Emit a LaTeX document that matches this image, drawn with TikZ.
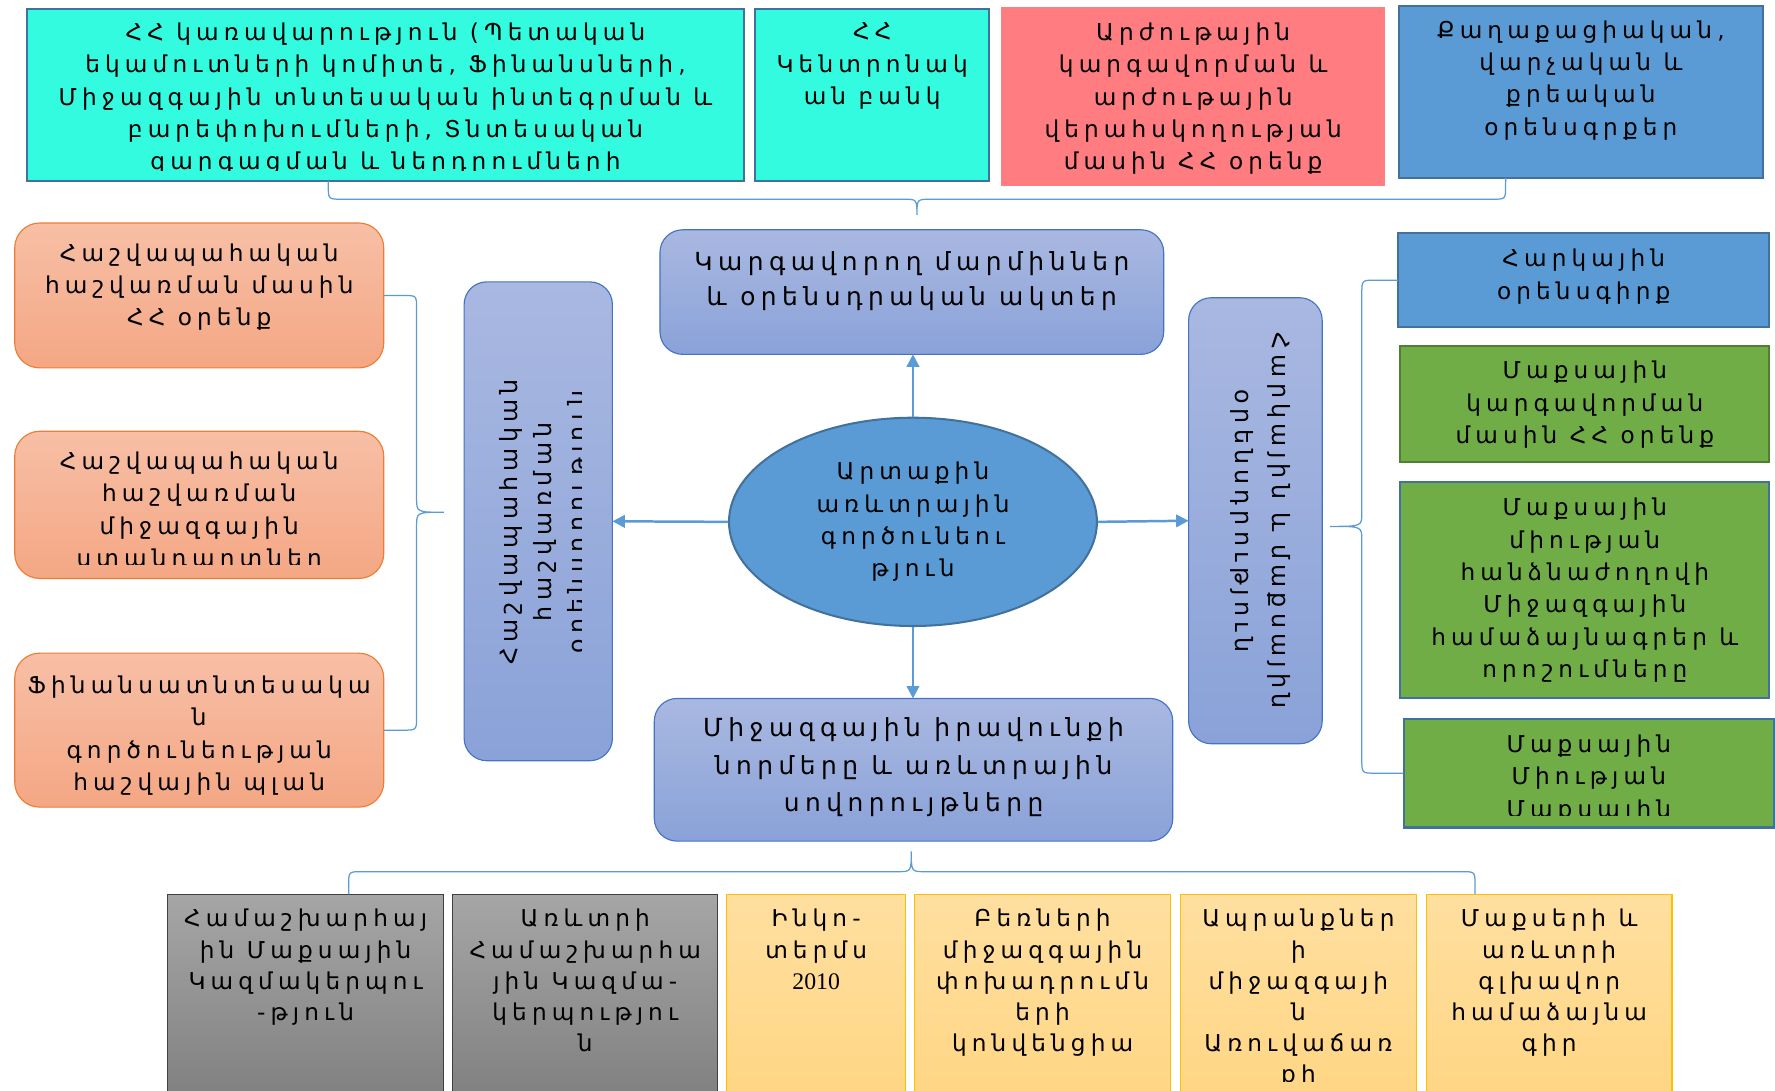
\documentclass[tikz,border=0pt]{standalone}
\usepackage{fontspec}
\setmainfont{DejaVu Sans}[LetterSpace=22]
\newfontfamily\numfont{Liberation Serif}
\usetikzlibrary{shapes.geometric,arrows.meta,calc}

\definecolor{aqua}{HTML}{33FBE0}
\definecolor{rose}{HTML}{FF7C80}
\definecolor{steel}{HTML}{5B9BD5}
\definecolor{steeledge}{HTML}{41719C}
\definecolor{leaf}{HTML}{70AD47}
\definecolor{leafedge}{HTML}{507E32}
\definecolor{peachtop}{HTML}{F7BFA6}
\definecolor{peachbot}{HTML}{F4A784}
\definecolor{peachedge}{HTML}{ED7D31}
\definecolor{lavtop}{HTML}{A9B8E1}
\definecolor{lavbot}{HTML}{8AA2D8}
\definecolor{lavedge}{HTML}{4472C4}
\definecolor{greytop}{HTML}{A6A6A6}
\definecolor{greybot}{HTML}{7A7A7A}
\definecolor{greyedge}{HTML}{404040}
\definecolor{sandtop}{HTML}{FFDFA0}
\definecolor{sandbot}{HTML}{FFD47F}
\definecolor{sandedge}{HTML}{FFC000}
\definecolor{linkblue}{HTML}{5B9BD5}

\begin{document}
\begin{tikzpicture}[x=1pt,y=-1pt,
  panel/.style={draw, inner sep=0pt, outer sep=0pt, line width=1.8pt},
  sqaqua/.style={panel, fill=aqua, draw=steeledge},
  sqrose/.style={panel, fill=rose, draw=rose},
  sqsteel/.style={panel, fill=steel, draw=steeledge},
  sqleaf/.style={panel, fill=leaf, draw=leafedge},
  sqleafb/.style={panel, fill=leaf, draw=steeledge},
  peach/.style={panel, rounded corners=22pt, top color=peachtop, bottom color=peachbot, draw=peachedge, line width=1pt},
  lav/.style={panel, rounded corners=20pt, top color=lavtop, bottom color=lavbot, draw=lavedge, line width=1pt},
  grey/.style={panel, top color=greytop, bottom color=greybot, draw=greyedge, line width=1pt},
  sand/.style={panel, top color=sandtop, bottom color=sandbot, draw=sandedge, line width=1pt},
  lbl/.style={align=center, inner sep=0pt, anchor=north, font=\fontsize{20.5}{28.5}\selectfont},
  lblbig/.style={lbl, font=\fontsize{22}{31}\selectfont},
  lblsm/.style={lbl, font=\fontsize{20.5}{27.5}\selectfont},
  link/.style={draw=linkblue, line width=2.2pt, -{Triangle[length=11pt,width=11pt]}},
  brace/.style={draw=linkblue, line width=1.1pt}
]
\useasboundingbox (0,0) rectangle (1568,963);
\clip (0,0) rectangle (1568,963);

% ---------- top row: governing bodies and codes ----------
\node[sqaqua, minimum width=633pt, minimum height=152pt] (t1) at (340.5,84) {};
\node[sqaqua, minimum width=207pt, minimum height=152pt] (t2) at (770.5,84) {};
\node[sqrose, minimum width=338pt, minimum height=156pt] (t3) at (1054,85) {};
\node[sqsteel, minimum width=321pt, minimum height=152pt] (t4) at (1396.5,81) {};

\begin{scope}
  \clip (24,8) rectangle (657,151);
  \node[lbl] (t1x) at ($(t1.north)+(0,12)$) {ՀՀ կառավարություն (Պետական\\եկամուտների կոմիտե, Ֆինանսների,\\Միջազգային տնտեսական ինտեգրման և\\բարեփոխումների, Տնտեսական\\զարգացման և ներդրումների};
\end{scope}
\node[lbl] (t2x) at ($(t2.north)+(0,12)$) {ՀՀ\\Կենտրոնակ\\ան բանկ};
\node[lbl] (t3x) at ($(t3.north)+(0,13)$) {Արժութային\\կարգավորման և\\արժութային\\վերահսկողության\\մասին ՀՀ օրենք};
\node[lbl] (t4x) at ($(t4.north)+(0,13)$) {Քաղաքացիական,\\վարչական և\\քրեական\\օրենսգրքեր};

% ---------- centre ----------
\node[lav, minimum width=445pt, minimum height=110pt] (ctop) at (805.5,258) {};
\node[lblbig] (ctopx) at ($(ctop.north)+(0,19)$) {Կարգավորող մարմիններ\\և օրենսդրական ակտեր};

\node[ellipse, draw=steeledge, fill=steel, line width=1.8pt, minimum width=325pt, minimum height=184pt, inner sep=0pt] (hub) at (806.5,461) {};
\node[lbl, anchor=center] (hubx) at (hub.center) {Արտաքին\\առևտրային\\գործունեու\\թյուն};

\node[lav, minimum width=458pt, minimum height=126pt] (cbot) at (807,680) {};
\node[lbl, font=\fontsize{22}{33}\selectfont] (cbotx) at ($(cbot.north)+(0,17)$) {Միջազգային իրավունքի\\նորմերը և առևտրային\\սովորույթները};

\node[lav, minimum width=131pt, minimum height=423pt] (lv) at (475.5,460.5) {};
\begin{scope}
  \clip (410,249) rectangle (514,672);
  \node[lbl, anchor=center, rotate=90, font=\fontsize{21}{30}\selectfont] (lvx) at (481,461) {Հաշվապահական\\հաշվառման\\օրենսդրություն};
\end{scope}

\node[lav, minimum width=118pt, minimum height=394pt] (rv) at (1109,460) {};
\node[lbl, anchor=center, rotate=-90, font=\fontsize{21}{33}\selectfont] (rvx) at (1113.5,460) {Հարկային և մաքսային\\օրենսդրություն};

\draw[link] (hub.north) -- (hub.north |- ctop.south);
\draw[link] (hub.south) -- (hub.south |- cbot.north);
\draw[link] (hub.west) -- (lv.east);
\draw[link] (hub.east) -- (rv.west);

% ---------- left column ----------
\node[peach, minimum width=326pt, minimum height=128pt] (l1) at (176,261) {};
\node[peach, minimum width=326pt, minimum height=130pt] (l2) at (176,446) {};
\node[peach, minimum width=326pt, minimum height=136pt] (l3) at (176,645) {};
\node[lbl] (l1x) at ($(l1.north)+(0,18)$) {Հաշվապահական\\հաշվառման մասին\\ՀՀ օրենք};
\begin{scope}
  \clip (13,381) rectangle (339,499);
  \node[lbl] (l2x) at ($(l2.north)+(0,18)$) {Հաշվապահական\\հաշվառման\\միջազգային\\ստանդարտներ};
\end{scope}
\node[lbl] (l3x) at ($(l3.north)+(0,20)$) {Ֆինանսատնտեսակա\\ն\\գործունեության\\հաշվային պլան};

% ---------- right column ----------
\node[sqsteel, minimum width=328pt, minimum height=83pt] (r1) at (1399,247.5) {};
\node[sqleaf, minimum width=326pt, minimum height=102pt] (r2) at (1400,357) {};
\node[sqleafb, minimum width=326pt, minimum height=191pt] (r3) at (1400,521.5) {};
\node[sqleafb, minimum width=327pt, minimum height=96pt] (r4) at (1403.5,683) {};
\node[lbl] (r1x) at ($(r1.north)+(0,14)$) {Հարկային\\օրենսգիրք};
\node[lbl] (r2x) at ($(r2.north)+(0,13)$) {Մաքսային\\կարգավորման\\մասին ՀՀ օրենք};
\node[lbl] (r3x) at ($(r3.north)+(0,14)$) {Մաքսային\\միության\\հանձնաժողովի\\Միջազգային\\համաձայնագրեր և\\որոշումները};
\begin{scope}
  \clip (1240,635) rectangle (1567,720);
  \node[lbl] (r4x) at ($(r4.north)+(0,14)$) {Մաքսային\\Միության\\Մաքսային};
\end{scope}

% ---------- bottom row ----------
\node[grey, minimum width=244pt, minimum height=210pt] (b1) at (270,895) {};
\node[grey, minimum width=234pt, minimum height=210pt] (b2) at (517,895) {};
\node[sand, minimum width=158pt, minimum height=210pt] (b3) at (721,895) {};
\node[sand, minimum width=226pt, minimum height=210pt] (b4) at (921,895) {};
\node[sand, minimum width=208pt, minimum height=210pt] (b5) at (1147,895) {};
\node[sand, minimum width=217pt, minimum height=210pt] (b6) at (1368.5,895) {};
\node[lblsm] (b1x) at ($(b1.north)+(0,13)$) {Համաշխարհայ\\ին Մաքսային\\Կազմակերպու\\-թյուն};
\node[lblsm] (b2x) at ($(b2.north)+(0,13)$) {Առևտրի\\Համաշխարհա\\յին Կազմա-\\կերպությու\\ն};
\node[lblsm] (b3x) at ($(b3.north)+(0,13)$) {Ինկո-\\տերմս\\{\numfont\fontsize{21}{27.5}\selectfont 2010}};
\node[lblsm] (b4x) at ($(b4.north)+(0,13)$) {Բեռների\\միջազգային\\փոխադրումն\\երի\\կոնվենցիա};
\begin{scope}
  \clip (1043,790) rectangle (1251,955);
  \node[lblsm] (b5x) at ($(b5.north)+(0,13)$) {Ապրանքներ\\ի\\միջազգայի\\ն\\Առուվաճառ\\քի};
\end{scope}
\node[lblsm] (b6x) at ($(b6.north)+(0,13)$) {Մաքսերի և\\առևտրի\\գլխավոր\\համաձայնա\\գիր};

% ---------- braces grouping the sources ----------
\coordinate (tbL) at ($(t1.south west)!0.42!(t1.south east)$);
\coordinate (tbR) at ($(t4.south west)!0.293!(t4.south east)$);
\coordinate (tbTip) at ($(ctop.north)+(4.5,-13)$);
\draw[brace] (tbL) -- (290,164) .. controls (290,176) .. (302,176) -- (798,176)
  .. controls (810,176) .. (tbTip) .. controls (810,176) .. (822,176) -- (1318,176)
  .. controls (1330,176) .. (1330,164) -- (tbR);

\coordinate (lbTip) at ($(lv.west)+(-18,-8)$);
\draw[brace] (l1.east) -- (356,261) .. controls (368,261) .. (368,273) -- (368,440)
  .. controls (368,452.5) .. (lbTip) .. controls (368,452.5) .. (368,465) -- (368,633)
  .. controls (368,645) .. (356,645) -- (l3.east);

\coordinate (rbTip) at ($(rv.east)+(7,5)$);
\draw[brace] (r1.west) -- (1215,247.5) .. controls (1203,247.5) .. (1203,259.5) -- (1203,453)
  .. controls (1203,465) .. (rbTip) .. controls (1203,465) .. (1203,477) -- (1203,671)
  .. controls (1203,683) .. (1215,683) -- (r4.west);

\coordinate (bbL) at ($(b1.north west)!0.656!(b1.north east)$);
\coordinate (bbR) at ($(b6.north west)!0.198!(b6.north east)$);
\coordinate (bbTip) at ($(cbot.south)+(-2,9)$);
\draw[brace] (bbL) -- (308,782) .. controls (308,770) .. (320,770) -- (793,770)
  .. controls (805,770) .. (bbTip) .. controls (805,770) .. (817,770) -- (1291,770)
  .. controls (1303,770) .. (1303,782) -- (bbR);
\end{tikzpicture}
\end{document}
